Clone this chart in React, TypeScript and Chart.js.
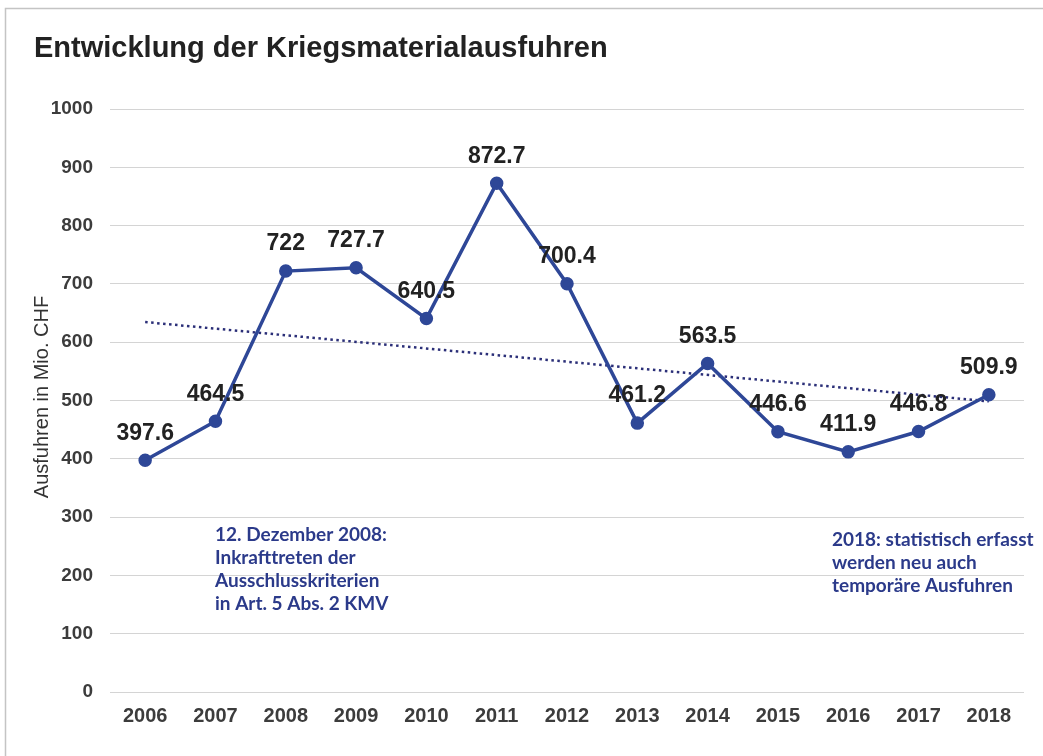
import React, { useEffect, useRef } from "react";
import { Chart, registerables } from "chart.js";

Chart.register(...registerables);

// ---- Data ----
const years = ["2006", "2007", "2008", "2009", "2010", "2011", "2012", "2013", "2014", "2015", "2016", "2017", "2018"];
const exportsMioChf = [397.6, 464.5, 722, 727.7, 640.5, 872.7, 700.4, 461.2, 563.5, 446.6, 411.9, 446.8, 509.9];
const trendValues: (number | null)[] = [634.6, null, null, null, null, null, null, null, null, null, null, null, 498.5];
const yMin = 0;
const yMax = 1000;
const yStep = 100;

const chartTitle = "Entwicklung der Kriegsmaterialausfuhren";
const yAxisTitle = "Ausfuhren in Mio. CHF";
const noteLeft = ["12. Dezember 2008:", "Inkrafttreten der", "Ausschlusskriterien", "in Art. 5 Abs. 2 KMV"];
const noteRight = ["2018: statistisch erfasst", "werden neu auch", "temporäre Ausfuhren"];

// ---- Styles ----
const ARIAL = "'Liberation Sans', Arial, sans-serif";
const NOTE_FONT = "Lato, 'Open Sans', sans-serif";
const LINE_COLOR = "#2E4797";
const TREND_COLOR = "#2B2F78";
const NOTE_COLOR = "#2B3A8A";
const TEXT_DARK = "#222222";
const TICK_COLOR = "#3C3C3C";

const decorPlugin = {
  id: "decor",
  beforeDraw(chart: any) {
    const { ctx, width, height } = chart;
    ctx.save();
    ctx.fillStyle = "#ffffff";
    ctx.fillRect(0, 0, width, height);
    ctx.strokeStyle = "#c4c4c4";
    ctx.lineWidth = 1.5;
    ctx.beginPath();
    ctx.moveTo(5.5, height);
    ctx.lineTo(5.5, 8.5);
    ctx.lineTo(width, 8.5);
    ctx.stroke();
    ctx.restore();
  },
  afterDatasetsDraw(chart: any) {
    const { ctx } = chart;
    const meta = chart.getDatasetMeta(0);
    ctx.save();
    ctx.font = `bold 23px ${ARIAL}`;
    ctx.fillStyle = TEXT_DARK;
    ctx.textAlign = "center";
    ctx.textBaseline = "middle";
    meta.data.forEach((pt: any, i: number) => {
      ctx.fillText(String(exportsMioChf[i]), pt.x, pt.y - 27);
    });
    ctx.restore();
  },
  afterDraw(chart: any) {
    const { ctx } = chart;
    ctx.save();
    // title
    ctx.font = `bold 29px ${ARIAL}`;
    ctx.fillStyle = TEXT_DARK;
    ctx.textAlign = "left";
    ctx.textBaseline = "middle";
    ctx.fillText(chartTitle, 34, 49);
    // y axis title
    ctx.save();
    ctx.translate(42, 397);
    ctx.rotate(-Math.PI / 2);
    ctx.font = `20px ${ARIAL}`;
    ctx.fillStyle = "#333333";
    ctx.textAlign = "center";
    ctx.textBaseline = "middle";
    ctx.fillText(yAxisTitle, 0, 0);
    ctx.restore();
    // notes
    ctx.font = `bold 19px ${NOTE_FONT}`;
    ctx.fillStyle = NOTE_COLOR;
    ctx.textAlign = "left";
    ctx.textBaseline = "alphabetic";
    noteLeft.forEach((line, i) => ctx.fillText(line, 215, 541 + i * 23));
    noteRight.forEach((line, i) => ctx.fillText(line, 832, 546 + i * 23));
    ctx.restore();
  },
};

export default function App() {
  const canvasRef = useRef<HTMLCanvasElement | null>(null);

  useEffect(() => {
    if (!canvasRef.current) return;
    const chart = new Chart(canvasRef.current, {
      type: "line",
      data: {
        labels: years,
        datasets: [
          {
            label: "Ausfuhren",
            data: exportsMioChf,
            borderColor: LINE_COLOR,
            backgroundColor: LINE_COLOR,
            borderWidth: 3.5,
            pointRadius: 5,
            pointBackgroundColor: LINE_COLOR,
            pointBorderColor: LINE_COLOR,
            tension: 0,
          },
          {
            label: "Trend",
            data: trendValues,
            borderColor: TREND_COLOR,
            borderWidth: 2.5,
            borderDash: [2.5, 3.5],
            pointRadius: 0,
            spanGaps: true,
            fill: false,
          },
        ],
      },
      options: {
        responsive: false,
        animation: false,
        layout: { padding: { top: 109, right: 19, left: 0, bottom: 0 } },
        plugins: {
          legend: { display: false },
          tooltip: { enabled: false },
          title: { display: false },
        },
        scales: {
          x: {
            type: "category",
            offset: true,
            grid: { display: false, drawTicks: false },
            border: { display: false },
            ticks: {
              color: TICK_COLOR,
              font: { family: ARIAL, size: 20, weight: "bold" },
              padding: 12,
              maxRotation: 0,
              autoSkip: false,
            },
            afterFit(scale: any) {
              scale.height = 64;
            },
          },
          y: {
            min: yMin,
            max: yMax,
            grid: { color: "#d4d4d4", lineWidth: 1, drawTicks: false },
            border: { display: false },
            ticks: {
              stepSize: yStep,
              color: TICK_COLOR,
              font: { family: ARIAL, size: 19, weight: "bold" },
              padding: 17,
              callback: (value: any) => String(value),
            },
            afterFit(scale: any) {
              scale.width = 110;
            },
          },
        },
      },
      plugins: [decorPlugin],
    });
    return () => chart.destroy();
  }, []);

  return (
    <div style={{ position: "fixed", left: 0, top: 0, width: 1043, height: 756, background: "#fff" }}>
      <canvas ref={canvasRef} width={1043} height={756} style={{ display: "block" }} />
    </div>
  );
}
